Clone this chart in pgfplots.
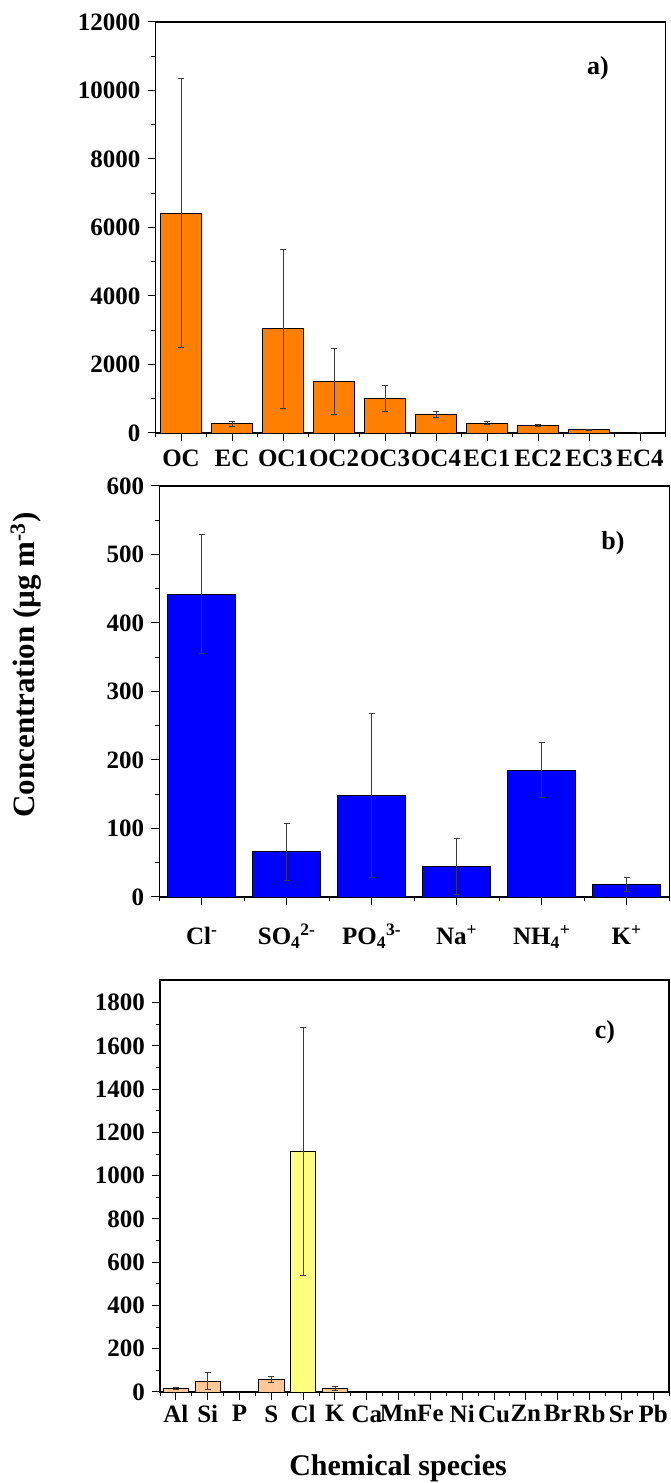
\documentclass[border=0pt]{standalone}
\usepackage{fontspec}
\setmainfont{Liberation Serif}
\usepackage{pgfplots}
\pgfplotsset{compat=1.18}
\definecolor{orangeA}{RGB}{255,128,0}
\definecolor{blueB}{RGB}{0,0,255}
\definecolor{peach}{RGB}{255,200,150}
\definecolor{yellowC}{RGB}{255,255,128}
\definecolor{errc}{RGB}{60,60,60}
\pgfplotsset{
  myax/.style={
    scale only axis,
    axis line style={line width=1.2pt},
    every tick/.style={black, line width=1pt},
    tick align=outside,
    major tick length=8pt, minor tick length=4.5pt,
    xtick pos=bottom, ytick pos=left,
    ticklabel style={font=\fontsize{25}{25}\selectfont\bfseries},
    yticklabel style={xshift=-3.5pt},
    /pgf/number format/assume math mode=true,
    /pgf/number format/1000 sep={},
    scaled y ticks=false,
    ymin=0,
    ybar, bar shift=0pt, bar width=0.8,
    minor y tick num=1,
  },
  barerr/.style={draw=black, line width=0.9pt,
    error bars/.cd, y dir=both, y explicit,
    error bar style={line width=0.9pt, color=errc},
    error mark options={rotate=90, mark size=3pt, line width=0.9pt, color=errc}},
}
\begin{document}
\begin{tikzpicture}[x=1pt,y=1pt]
\useasboundingbox (0,0) rectangle (670,1483);
% panel a
\begin{axis}[myax, at={(155.5pt,1050pt)}, anchor=south west,
  width=510pt, height=411pt,
  xmin=-0.5, xmax=9.5, ymax=12000,
  ytick={0,2000,...,12000},
  xtick={0,...,9},
  xticklabels={OC,EC,OC1,OC2,OC3,OC4,EC1,EC2,EC3,EC4},
  minor xtick={-0.5,0.5,...,9.5},
  xticklabel style={yshift=-5pt},
]
\addplot[fill=orangeA, barerr] table[x=x,y=y,y error=e] {
x y e
0 6420 3920
1 270 70
2 3050 2320
3 1500 970
4 1000 375
5 550 90
6 290 55
7 220 15
8 90 20
9 20 5
};
\end{axis}
% panel b
\begin{axis}[myax, at={(159.2pt,586pt)}, anchor=south west,
  width=510pt, height=411pt,
  xmin=-0.5, xmax=5.5, ymax=600,
  ytick={0,100,...,600},
  xtick={0,...,5},
  xticklabels={Cl\textsuperscript{-},SO\textsubscript{4}\textsuperscript{2-},PO\textsubscript{4}\textsuperscript{3-},Na\textsuperscript{+},NH\textsubscript{4}\textsuperscript{+},K\textsuperscript{+}},
  minor xtick={-0.5,0.5,...,5.5},
  xticklabel style={text height=22pt, text depth=6pt, yshift=-14pt},
]
\addplot[fill=blueB, barerr] table[x=x,y=y,y error=e] {
x y e
0 442 87
1 66 42
2 148 120
3 45 41
4 185 40
5 18 10
};
\end{axis}
% panel c
\begin{axis}[myax, at={(160pt,91pt)}, anchor=south west,
  width=509pt, height=412pt,
  xmin=-0.5, xmax=15.5, ymax=1905,
  ytick={0,200,...,1800},
  xtick={0,...,15},
  xticklabels={Al,Si,P,S,Cl,K,Ca,Mn,Fe,Ni,Cu,Zn,Br,Rb,Sr,Pb},
  minor xtick={-0.5,0.5,...,15.5},
  xticklabel style={yshift=-2pt},
]
\addplot[fill=peach, barerr] table[x=x,y=y,y error=e] {
x y e
0 15 5
1 50 40
3 60 14
5 15 10
};
\addplot[fill=peach, draw=black, line width=0.9pt] table[x=x,y=y] {
x y
2 3
6 4
7 1
8 1
9 0.5
10 0.5
11 1
12 0.5
13 0.3
14 0.3
15 2
};
\addplot[fill=yellowC, barerr] table[x=x,y=y,y error=e] {
x y e
4 1113 572
};
\end{axis}
\node[font=\fontsize{26}{26}\selectfont\bfseries] at (598,1415) {a)};
\node[font=\fontsize{26}{26}\selectfont\bfseries] at (613,940) {b)};
\node[font=\fontsize{26}{26}\selectfont\bfseries] at (605,451) {c)};
\node[rotate=90, anchor=base, font=\fontsize{31}{31}\selectfont\bfseries] at (34,818) {Concentration (µg m\textsuperscript{-3})};
\node[anchor=base, inner sep=0pt, font=\fontsize{30}{30}\selectfont\bfseries] at (398,8) {Chemical species};
\end{tikzpicture}
\end{document}
